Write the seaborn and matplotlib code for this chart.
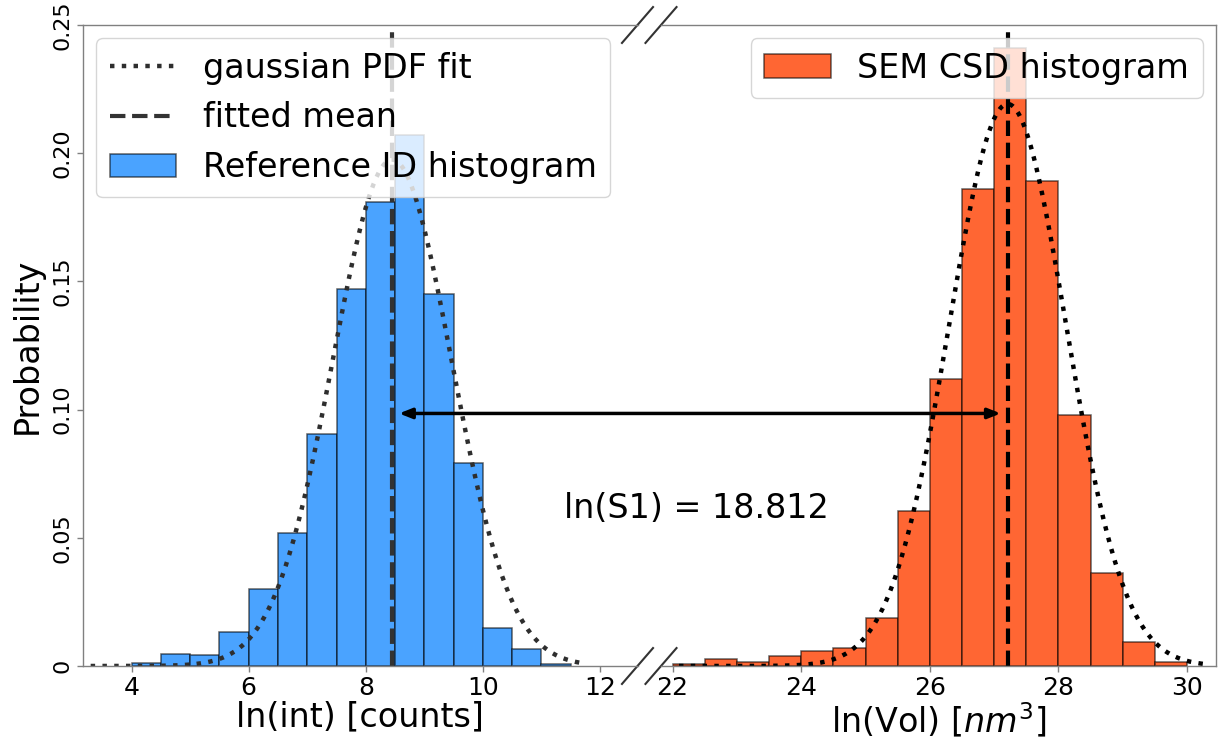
import numpy as np
import matplotlib
matplotlib.use("Agg")
import matplotlib.pyplot as plt
import seaborn as sns
from matplotlib.patches import ConnectionPatch

# ---------------- data ----------------
bin_width = 0.5
ref_bin_left = [4.0, 4.5, 5.0, 5.5, 6.0, 6.5, 7.0, 7.5, 8.0, 8.5, 9.0, 9.5, 10.0, 10.5, 11.0]
ref_prob = [0.0011, 0.0048, 0.0043, 0.0133, 0.0302, 0.0518, 0.0905, 0.147, 0.181, 0.207,
            0.145, 0.079, 0.0147, 0.0068, 0.0008]
sem_bin_left = [22.0, 22.5, 23.0, 23.5, 24.0, 24.5, 25.0, 25.5, 26.0, 26.5, 27.0, 27.5,
                28.0, 28.5, 29.0, 29.5]
sem_prob = [0.0007, 0.0029, 0.0015, 0.0038, 0.0059, 0.0069, 0.0189, 0.0606, 0.112, 0.186,
            0.241, 0.189, 0.098, 0.0362, 0.0095, 0.0015]

# fitted gaussian parameters (mean, sigma)
ref_mu, ref_sigma = 8.45, 1.01
sem_mu, sem_sigma = 27.21, 0.91
ref_fit_range = (3.1, 11.65)
sem_fit_range = (22.1, 30.25)

arrow_y = 0.0985
s1_label = "ln(S1) = 18.812"

ref_xticks = [4, 6, 8, 10, 12]
sem_xticks = [22, 24, 26, 28, 30]
yticks = [0, 0.05, 0.10, 0.15, 0.20, 0.25]
ytick_labels = ["0", "0.05", "0.10", "0.15", "0.20", "0.25"]

# ---------------- style ----------------
blue = "#4aa3ff"
orange = "#ff6633"
spine_col = "0.5"
plt.rcParams["font.family"] = ["DejaVu Sans"]

fig = plt.figure(figsize=(12.18, 7.40), dpi=100)
ax1 = fig.add_axes([83 / 1218, 74 / 740, 554.5 / 1218, 641 / 740])
ax2 = fig.add_axes([661 / 1218, 74 / 740, 555 / 1218, 641 / 740])


def gauss_fit(mu, sigma, rng):
    xs = np.linspace(rng[0], rng[1], 400)
    ys = bin_width / (sigma * np.sqrt(2 * np.pi)) * np.exp(-(xs - mu) ** 2 / (2 * sigma ** 2))
    return xs, ys


# left: reference ID
ref_edges = list(ref_bin_left) + [ref_bin_left[-1] + bin_width]
ref_centers = [b + bin_width / 2 for b in ref_bin_left]
sns.histplot(x=ref_centers, weights=ref_prob, bins=ref_edges, ax=ax1, color=blue,
             edgecolor=(0, 0, 0, 0.6), linewidth=1.1, alpha=1, label="Reference ID histogram")
xs, ys = gauss_fit(ref_mu, ref_sigma, ref_fit_range)
sns.lineplot(x=xs, y=ys, ax=ax1, color="#2e2e2e", linestyle=":", lw=3.2,
             label="gaussian PDF fit", legend=False)
ax1.axvline(ref_mu, color="#333333", linestyle="--", lw=3, label="fitted mean")

# right: SEM CSD
sem_edges = list(sem_bin_left) + [sem_bin_left[-1] + bin_width]
sem_centers = [b + bin_width / 2 for b in sem_bin_left]
sns.histplot(x=sem_centers, weights=sem_prob, bins=sem_edges, ax=ax2, color=orange,
             edgecolor=(0, 0, 0, 0.6), linewidth=1.1, alpha=1, label="SEM CSD histogram")
xs, ys = gauss_fit(sem_mu, sem_sigma, sem_fit_range)
sns.lineplot(x=xs, y=ys, ax=ax2, color="black", linestyle=":", lw=3.2, legend=False)
ax2.axvline(sem_mu, color="black", linestyle="--", lw=3)

# axes limits / ticks
ax1.set_xlim(3.17, 12.64)
ax2.set_xlim(21.82, 30.45)
for ax in (ax1, ax2):
    ax.set_ylim(0, 0.25)
    ax.tick_params(direction="out", length=4, width=1, color=spine_col)
    ax.tick_params(axis="x", labelsize=18)
    ax.tick_params(axis="y", labelsize=16)
    for s in ax.spines.values():
        s.set_color(spine_col)
        s.set_linewidth(1)
ax1.set_xticks(ref_xticks)
ax2.set_xticks(sem_xticks)
ax1.set_yticks(yticks)
ax1.set_yticklabels(ytick_labels, rotation=90, va="center")
ax2.tick_params(left=False, labelleft=False)
ax1.spines["right"].set_visible(False)
ax2.spines["left"].set_visible(False)

ax1.set_xlabel("ln(int) [counts]", fontsize=24, labelpad=0)
ax2.set_xlabel(r"ln(Vol) [$nm^3$]", fontsize=24, labelpad=0)
ax1.set_ylabel("Probability", fontsize=24, labelpad=6)
ax2.set_ylabel("")

# legends
h1, l1 = ax1.get_legend_handles_labels()
order = [l1.index("gaussian PDF fit"), l1.index("fitted mean"), l1.index("Reference ID histogram")]
ax1.legend([h1[i] for i in order], [l1[i] for i in order], loc="upper left", fontsize=24,
           borderaxespad=0.4)
h2, l2 = ax2.get_legend_handles_labels()
ax2.legend(h2, l2, loc="upper right", fontsize=24, borderaxespad=0.4)

# broken-axis marks
d = 0.028
kw = dict(color="0.2", clip_on=False, lw=1.5)
ax1.plot((1 - d, 1 + d), (1 - d, 1 + d), transform=ax1.transAxes, **kw)
ax1.plot((1 - d, 1 + d), (-d, +d), transform=ax1.transAxes, **kw)
ax2.plot((-d, +d), (1 - d, 1 + d), transform=ax2.transAxes, **kw)
ax2.plot((-d, +d), (-d, +d), transform=ax2.transAxes, **kw)

# arrow between the two fitted means
con = ConnectionPatch(xyA=(ref_mu, arrow_y), coordsA=ax1.transData,
                      xyB=(sem_mu, arrow_y), coordsB=ax2.transData,
                      arrowstyle="<|-|>,head_length=0.5,head_width=0.2",
                      mutation_scale=15, shrinkA=5, shrinkB=5, lw=2.5, color="black")
fig.add_artist(con)

fig.text(696 / 1218, 1 - 508 / 740, s1_label, ha="center", va="center", fontsize=24)

fig.savefig("out.png", dpi=100)
